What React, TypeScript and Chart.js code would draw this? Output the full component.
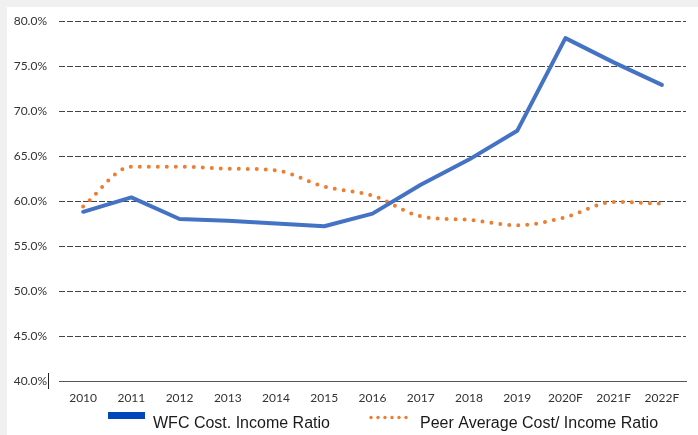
import React, { useEffect, useRef } from "react";
import { Chart, registerables } from "chart.js";

Chart.register(...registerables);

const categories = ["2010", "2011", "2012", "2013", "2014", "2015", "2016", "2017", "2018", "2019", "2020F", "2021F", "2022F"];
const wfcValues = [58.8, 60.4, 58.0, 57.8, 57.5, 57.2, 58.6, 61.8, 64.6, 67.8, 78.1, 75.4, 72.9];
const peerValues = [59.4, 63.8, 63.8, 63.6, 63.4, 61.6, 60.6, 58.3, 57.9, 57.3, 58.2, 59.9, 59.7];
const wfcLabel = "WFC Cost. Income Ratio";
const peerLabel = "Peer Average Cost/ Income Ratio";
const yMin = 40;
const yMax = 80;
const yStep = 5;

const bgPlugin = {
  id: "bgPlugin",
  beforeDraw(chart: any) {
    const { ctx, width, height } = chart;
    ctx.save();
    ctx.fillStyle = "#f0f0f0";
    ctx.fillRect(0, 0, width, height);
    ctx.fillStyle = "#ffffff";
    ctx.fillRect(7, 7, width - 7, height - 7);
    ctx.restore();
  },
};

const legendPlugin = {
  id: "customLegend",
  afterDraw(chart: any) {
    const { ctx } = chart;
    ctx.save();
    ctx.fillStyle = "#0047BB";
    ctx.fillRect(108, 412, 37, 7);
    ctx.fillStyle = "#ED7D31";
    for (let i = 0; i < 6; i++) {
      ctx.beginPath();
      ctx.arc(371 + i * 7, 417.5, 1.7, 0, Math.PI * 2);
      ctx.fill();
    }
    ctx.fillStyle = "#1a1a1a";
    ctx.font = '16px "Liberation Sans", Arial, sans-serif';
    ctx.textBaseline = "alphabetic";
    ctx.textAlign = "left";
    ctx.fillText(wfcLabel, 153, 428);
    ctx.fillText(peerLabel, 420, 428);
    // small mark beside bottom y label
    ctx.fillStyle = "#222222";
    ctx.fillRect(48, 373, 1, 16);
    ctx.restore();
  },
};

export default function App() {
  const ref = useRef<HTMLCanvasElement>(null);
  useEffect(() => {
    if (!ref.current) return;
    const chart = new Chart(ref.current, {
      type: "line",
      data: {
        labels: categories,
        datasets: [
          {
            label: wfcLabel,
            data: wfcValues,
            borderColor: "#4472C4",
            borderWidth: 4,
            pointRadius: 0,
            tension: 0,
            borderJoinStyle: "round",
            borderCapStyle: "round",
          },
          {
            label: peerLabel,
            data: peerValues,
            borderColor: "#ED7D31",
            borderWidth: 4,
            borderDash: [0, 9],
            borderCapStyle: "round",
            pointRadius: 0,
            cubicInterpolationMode: "monotone",
          },
        ],
      },
      options: {
        responsive: false,
        animation: false,
        layout: { padding: { left: 0, right: 12, top: 21, bottom: 0 } },
        plugins: { legend: { display: false }, tooltip: { enabled: false } },
        scales: {
          x: {
            offset: true,
            grid: { display: false, drawTicks: false },
            border: { display: true, color: "#555555", width: 1 },
            ticks: {
              color: "#333333",
              font: { family: "Lato, 'Noto Sans', sans-serif", size: 12 },
              padding: 10,
              maxRotation: 0,
              autoSkip: false,
            },
            afterFit(scale: any) {
              scale.height = 54;
            },
          },
          y: {
            min: yMin,
            max: yMax,
            grid: {
              drawTicks: false,
              color: (c: any) => (c.tick && c.tick.value === yMin ? "rgba(0,0,0,0)" : "#454545"),
              lineWidth: 1,
            },
            border: { display: false, dash: [6, 2] },
            ticks: {
              stepSize: yStep,
              color: "#333333",
              font: { family: "Lato, 'Noto Sans', sans-serif", size: 12 },
              padding: 12,
              callback: (v: any) => Number(v).toFixed(1) + "%",
            },
            afterFit(scale: any) {
              scale.width = 59;
            },
          },
        },
      },
      plugins: [bgPlugin, legendPlugin],
    });
    return () => chart.destroy();
  }, []);
  return (
    <div style={{ position: "fixed", left: 0, top: 0, width: 698, height: 435 }}>
      <canvas ref={ref} width={698} height={435} style={{ display: "block" }} />
    </div>
  );
}
